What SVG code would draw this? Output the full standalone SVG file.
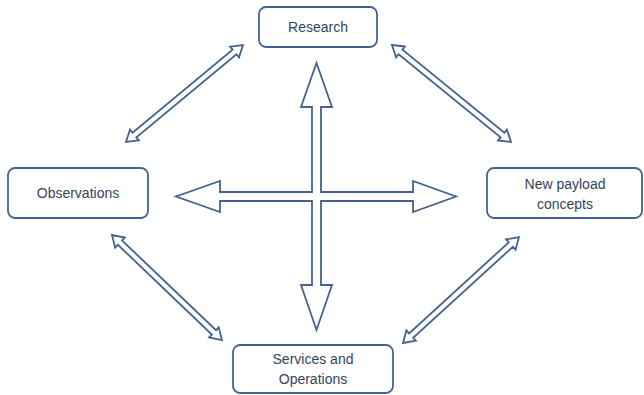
<svg xmlns="http://www.w3.org/2000/svg" width="644" height="395" viewBox="0 0 644 395">
<defs>
<style>
.box{fill:#ffffff;stroke:#43638f;stroke-width:1.8}
.lbl{font-family:"Liberation Sans",Arial,sans-serif;font-size:14px;fill:#334460;text-anchor:middle}
.arr{fill:#ffffff;stroke:#43638f;stroke-width:1.8;stroke-linejoin:miter}
</style>
<path id="da" d="M0,0 L11,-7 L11,-3 L141,-3 L141,-7 L152,0 L141,7 L141,3 L11,3 L11,7 Z"/>
</defs>
<rect width="644" height="395" fill="#ffffff"/>
<g id="connectors">
<path class="arr" d="M316.5,63 L332,107 L321,107 L321,192 L413,192 L413,181 L456,196.5 L413,212 L413,201 L321,201 L321,285 L332,285 L316.5,330 L301,285 L312,285 L312,201 L220,201 L220,212 L176,196.5 L220,181 L220,192 L312,192 L312,107 L301,107 Z"/>
<path class="arr" transform="translate(126,142) rotate(-39.66)" d="M0,0 L11,-7 L11,-3 L141,-3 L141,-7 L152,0 L141,7 L141,3 L11,3 L11,7 Z"/>
<path class="arr" transform="translate(392,45) rotate(39.18)" d="M0,0 L11,-7 L11,-3 L142.5,-3 L142.5,-7 L153.5,0 L142.5,7 L142.5,3 L11,3 L11,7 Z"/>
<path class="arr" transform="translate(112,235) rotate(43.7)" d="M0,0 L11,-7 L11,-3 L141,-3 L141,-7 L152,0 L141,7 L141,3 L11,3 L11,7 Z"/>
<path class="arr" transform="translate(403,343) rotate(-42.4)" d="M0,0 L11,-7 L11,-3 L146,-3 L146,-7 L157,0 L146,7 L146,3 L11,3 L11,7 Z"/>
</g>
<g id="research">
<rect class="box" x="259" y="7" width="118" height="40" rx="7"/>
<text class="lbl" x="318" y="32">Research</text>
</g>
<g id="observations">
<rect class="box" x="8" y="168" width="140" height="50" rx="7"/>
<text class="lbl" x="78" y="198">Observations</text>
</g>
<g id="newpayload">
<rect class="box" x="487" y="168" width="155" height="50" rx="7"/>
<text class="lbl" x="565" y="189">New payload</text>
<text class="lbl" x="565" y="209">concepts</text>
</g>
<g id="services">
<rect class="box" x="233" y="345" width="160" height="48" rx="7"/>
<text class="lbl" x="313" y="364">Services and</text>
<text class="lbl" x="313" y="384">Operations</text>
</g>
</svg>
